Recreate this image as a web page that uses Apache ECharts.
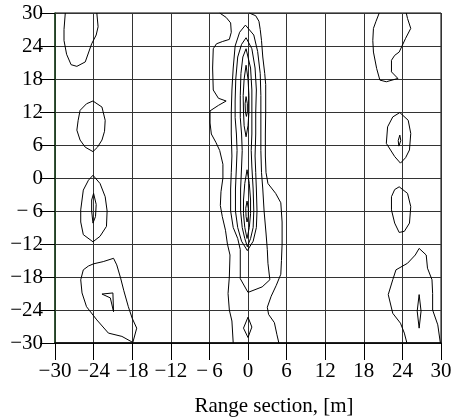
<!DOCTYPE html>
<html>
<head>
<meta charset="utf-8">
<script src="https://cdn.jsdelivr.net/npm/echarts@6/dist/echarts.min.js"></script>
<style>
  html, body { margin: 0; padding: 0; background: #fff; }
  #chart { width: 453px; height: 419px; }
</style>
</head>
<body>
<div id="chart"></div>
<script>
// axis range (both axes), metres
var axisMin = -30, axisMax = 30, axisStep = 6;

// contour lines, [x, y] in metres
// left column (x ~ -24)
var leftTop = [[-28.4,30],[-28.6,27],[-28.6,25],[-28.2,22.5],[-27.5,20.6],[-26.6,20.3],[-25.3,21.1],[-24.3,24.4],[-23.6,26],[-23.3,27.5],[-23.5,30]];
var leftUpper = [[-24.1,14.0],[-22.7,12.9],[-22.2,10.5],[-22.3,8.5],[-22.7,6.9],[-23.4,5.6],[-24.1,4.8],[-25.3,5.6],[-26.1,6.9],[-26.6,8.7],[-26.4,10.5],[-26.1,12.3],[-25.1,13.5],[-24.1,14.0]];
var leftMid = [[-24.1,0.5],[-23,-1],[-22.2,-3.4],[-21.9,-6],[-22,-8.8],[-23,-10.6],[-24.1,-11.6],[-25.6,-10.3],[-26,-8],[-26,-5.8],[-25.6,-2.2],[-24.8,-0.4],[-24.1,0.5]];
var leftMidCore = [[-24,-2.8],[-23.6,-4.8],[-23.7,-7],[-24.1,-8.2],[-24.3,-6],[-24.3,-4],[-24,-2.8]];
var leftLow = [[-24,-15.6],[-22.5,-15.2],[-20.9,-14.6],[-20.4,-15.8],[-19.8,-18.2],[-19.3,-20.5],[-18.6,-23.4],[-18,-25.5],[-17.3,-27.3],[-17.9,-29.9],[-19.6,-28.8],[-21.7,-28.2],[-23.5,-25.8],[-25.1,-23.4],[-25.8,-20.9],[-26,-18.5],[-25.6,-16.7],[-24.8,-16],[-24,-15.6]];
var leftLowHook = [[-22.7,-21.1],[-21,-20.9],[-20.9,-24.3],[-21.1,-24.2],[-21.4,-21.8],[-22.7,-21.1]];

// right column (x ~ 24)
var rightTop = [[20.4,30],[19.9,28.5],[19.5,27.2],[19.4,25],[19.5,22.9],[20,19.9],[20.5,17.8],[21.5,17.5],[23.3,18.1],[22.3,19.3],[22.3,21.4],[22.8,22.3],[23.5,22.9],[24.5,25.4],[25.3,27.2],[24.8,29],[24.6,30]];
var rightUpper = [[23.6,11.9],[24.9,10.5],[25.3,8.1],[25.1,5.1],[24.5,3.7],[23.7,2.7],[22.8,3.9],[21.5,6.3],[21.7,9.3],[22.5,11.1],[23.6,11.9]];
var rightUpperCore = [[23.6,7.8],[23.75,6.8],[23.45,5.8],[23.35,6.8],[23.6,7.8]];
var rightMid = [[23.5,-1.6],[24.8,-2.8],[25.3,-5.2],[25.1,-8.2],[24.3,-9.7],[23.5,-9.9],[22.8,-8.2],[22.3,-5.8],[22.3,-3.4],[22.8,-2.1],[23.5,-1.6]];
var rightLow = [[24.7,-30],[24.3,-28.2],[23.7,-26.4],[22.5,-24.6],[21.8,-21.2],[22.5,-18.5],[23,-16.7],[24.8,-15.5],[26,-14],[26.6,-12.8],[27.7,-14],[27.9,-16.4],[28.6,-18.5],[28.7,-21],[28.7,-24],[29.5,-26.7],[29.9,-30]];
var rightLowCore = [[26.6,-21.2],[26.9,-24.2],[26.6,-27.3],[26.3,-24.2],[26.6,-21.2]];

// central ridge (x ~ 0); the two outer lines run off the top and bottom edges
var ridgeLeft = [[-4.4,30],[-3.4,29.2],[-2.7,28.2],[-2.6,26.5],[-2.9,25.2],[-4.0,24.8],[-4.9,24.4],[-5.4,23.5],[-5.5,20],[-5.4,16],[-4.6,14.5],[-3.4,14],[-4.6,13.2],[-5.9,12.2],[-5.9,10],[-5.7,8],[-5.0,6.5],[-4.4,5],[-3.9,2.5],[-3.9,0],[-4.2,-2.5],[-4.3,-5],[-4.0,-7],[-3.5,-9.5],[-3.2,-12],[-2.8,-14],[-2.9,-18],[-3.1,-21],[-2.9,-24],[-2.5,-26],[-2.3,-30]];
var ridgeRight = [[0.2,30],[1.2,29.5],[1.7,28.5],[1.9,27],[2.1,25],[2.3,22],[2.6,19],[2.75,17],[2.75,12],[2.7,8],[2.7,4],[2.8,1],[3.1,-1],[4.3,-2.8],[5.1,-4.5],[5.3,-8],[5.3,-12],[5.2,-15],[5.1,-17.5],[4.4,-19.5],[3.6,-21.5],[3.0,-23.5],[3.2,-24.8],[4.1,-26.3],[4.5,-28.5],[4.8,-30]];
// rings around both peaks
var ringA = [[-0.4,27.8],[-1.3,26.5],[-2.0,24],[-2.3,20],[-2.5,16],[-2.6,12],[-2.6,8],[-2.5,4],[-2.6,1],[-2.7,-2],[-2.7,-6],[-2.3,-9],[-1.6,-11],[-1.2,-13],[-1.2,-18.3],[0,-20.8],[2.2,-19.8],[3.4,-18.5],[3.1,-15.5],[3.0,-13],[2.8,-10],[2.5,-6],[2.3,-2],[2.1,1],[2.0,5],[2.0,10],[2.0,15],[1.9,19],[1.5,23],[0.9,26],[-0.4,27.8]];
var ringB = [[-0.3,25.5],[-1.0,24.3],[-1.6,22],[-1.9,18],[-2.0,14],[-2.0,11],[-1.8,8],[-1.7,5],[-1.8,2],[-1.95,-2],[-1.95,-6],[-1.6,-9],[-1.0,-11.5],[-0.1,-13.2],[0.8,-11.5],[1.3,-9],[1.4,-6],[1.3,-2],[1.2,1],[1.1,4],[1.2,8],[1.2,12],[1.3,16],[1.1,20],[0.6,23.5],[-0.3,25.5]];
var ringC = [[-0.3,23.5],[-0.8,22],[-1.1,19],[-1.2,15],[-1.2,11],[-1.0,8],[-0.9,5],[-1.0,2],[-1.15,-2],[-1.15,-6],[-0.9,-9],[-0.5,-11],[-0.1,-12.5],[0.4,-11],[0.8,-9],[0.9,-6],[0.8,-2],[0.6,2],[0.5,5],[0.6,8],[0.6,12],[0.6,16],[0.4,20],[-0.3,23.5]];
// rings around one peak only
var upperD = [[-0.3,20.5],[-0.6,18],[-0.75,15],[-0.7,12],[-0.6,9.5],[-0.3,7.5],[0.0,9.5],[0.15,12],[0.15,15],[0.0,18],[-0.3,20.5]];
var upperSpot = [[-0.3,14.8],[-0.45,13.5],[-0.4,12],[-0.25,11.2],[-0.1,12],[-0.1,13.5],[-0.3,14.8]];
var lowerD = [[-0.15,1.5],[-0.5,-1],[-0.7,-4],[-0.7,-6.5],[-0.5,-9],[-0.15,-11],[0.2,-9],[0.4,-6.5],[0.4,-4],[0.2,-1],[-0.15,1.5]];
var lowerSpot = [[-0.15,-4.2],[-0.35,-5.5],[-0.3,-7],[-0.15,-8],[0.05,-7],[0.05,-5.5],[-0.15,-4.2]];
var bottomSpot = [[0,-25.3],[0.6,-27.1],[0,-29],[-0.7,-27.3],[0,-25.3]];

var contours = [
  leftTop, leftUpper, leftMid, leftMidCore, leftLow, leftLowHook,
  rightTop, rightUpper, rightUpperCore, rightMid, rightLow, rightLowCore,
  ridgeLeft, ridgeRight, ringA, ringB, ringC,
  upperD, upperSpot, lowerD, lowerSpot, bottomSpot
];

function tickText(v) {
  if (v >= 0) return String(v);
  return '\u2212' + (v > -10 ? '\u2009' : '') + (-v);
}

var font = '"Liberation Serif", "Times New Roman", serif';

var chart = echarts.init(document.getElementById('chart'), null, { renderer: 'canvas' });

var series = contours.map(function (pts) {
  return {
    type: 'line',
    data: pts,
    showSymbol: false,
    symbol: 'none',
    silent: true,
    clip: true,
    lineStyle: { color: '#000', width: 1 },
    z: 3
  };
});

chart.setOption({
  animation: false,
  backgroundColor: '#fff',
  grid: {
    left: 55, right: 12, top: 13, bottom: 76,
    outerBoundsMode: 'none',
    show: true, borderColor: '#000', borderWidth: 1
  },
  xAxis: {
    type: 'value',
    min: axisMin, max: axisMax, interval: axisStep,
    name: 'Range section, [m]',
    nameLocation: 'middle',
    nameGap: 53,
    nameTextStyle: { fontFamily: font, fontSize: 21, color: '#000', padding: [0, 0, 0, 52] },
    axisLine: { onZero: false, lineStyle: { color: '#000', width: 1.5 } },
    axisTick: { show: true, length: 17, lineStyle: { color: '#000' } },
    axisLabel: { formatter: tickText, margin: 18, fontFamily: font, fontSize: 21, color: '#000' },
    splitLine: { show: true, lineStyle: { color: '#333', width: 1 } }
  },
  yAxis: {
    type: 'value',
    min: axisMin, max: axisMax, interval: axisStep,
    axisLine: { show: true, onZero: false, lineStyle: { color: '#1e4620', width: 1.5 } },
    axisTick: { show: true, length: 15, lineStyle: { color: '#000' } },
    axisLabel: { formatter: tickText, margin: 12, fontFamily: font, fontSize: 21, color: '#000' },
    splitLine: { show: true, lineStyle: { color: '#333', width: 1 } }
  },
  series: series
});
</script>
</body>
</html>
